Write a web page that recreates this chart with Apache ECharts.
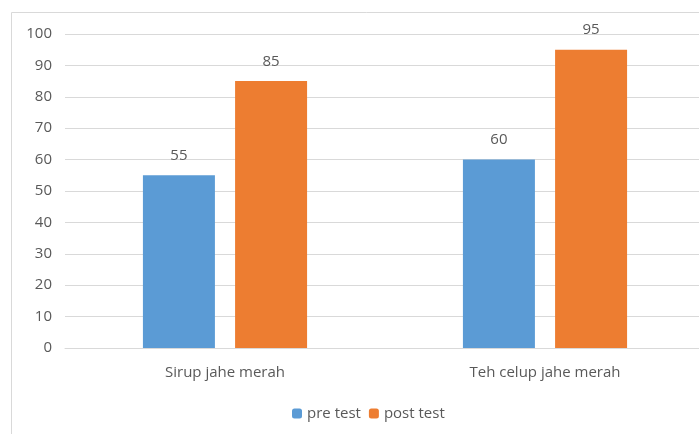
<!DOCTYPE html>
<html>
<head>
<meta charset="utf-8">
<script src="https://cdn.jsdelivr.net/npm/echarts@6/dist/echarts.min.js"></script>
<style>
html, body { margin: 0; padding: 0; background: #fff; overflow: hidden; }
#chart { width: 720px; height: 434px; }
</style>
</head>
<body>
<div id="chart"></div>
<script>
// data
var categories = ['Sirup jahe merah', 'Teh celup jahe merah'];
var preTest = [55, 60];
var postTest = [85, 95];

var textColor = '#595959';
var fontName = '"Open Sans", "Liberation Sans", sans-serif';

var chart = echarts.init(document.getElementById('chart'));

var labelStyle = {
    show: true,
    position: 'top',
    distance: 12,
    color: textColor,
    fontSize: 15,
    fontFamily: fontName
};

chart.setOption({
    animation: false,
    graphic: [{
        type: 'rect',
        shape: { x: 11.5, y: 12.5, width: 740, height: 460 },
        style: { fill: 'none', stroke: '#d9d9d9', lineWidth: 1 },
        silent: true
    }],
    grid: { left: 65, top: 34, width: 640, height: 314 },
    legend: {
        top: 401,
        left: 287,
        itemWidth: 10,
        itemHeight: 10,
        itemGap: 8,
        textStyle: { color: textColor, fontSize: 15, fontFamily: fontName },
        data: ['pre test', 'post test']
    },
    xAxis: {
        type: 'category',
        data: categories,
        axisLine: { lineStyle: { color: '#d9d9d9' } },
        axisTick: { show: false },
        axisLabel: { color: textColor, fontSize: 15, fontFamily: fontName, margin: 17 }
    },
    yAxis: {
        type: 'value',
        min: 0,
        max: 100,
        interval: 10,
        axisLine: { show: false },
        axisTick: { show: false },
        axisLabel: { color: textColor, fontSize: 15, fontFamily: fontName, margin: 13 },
        splitLine: { lineStyle: { color: '#d9d9d9' } }
    },
    series: [{
        name: 'pre test',
        type: 'bar',
        data: preTest,
        barWidth: 72,
        barGap: '28%',
        itemStyle: { color: '#5B9BD5' },
        label: labelStyle
    }, {
        name: 'post test',
        type: 'bar',
        data: postTest,
        barWidth: 72,
        itemStyle: { color: '#ED7D31' },
        label: labelStyle
    }]
});
</script>
</body>
</html>
